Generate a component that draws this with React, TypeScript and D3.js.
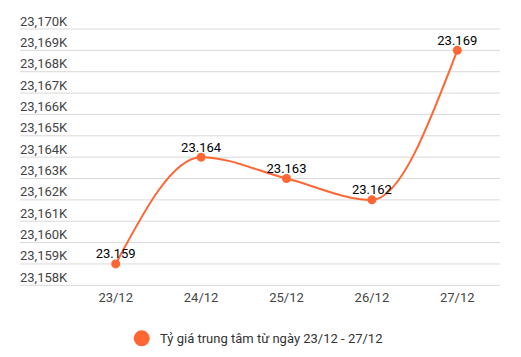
import React from "react";
import * as d3 from "d3";

const categories = ["23/12", "24/12", "25/12", "26/12", "27/12"];
const values = [23159, 23164, 23163, 23162, 23169];
const dataLabels = ["23.159", "23.164", "23.163", "23.162", "23.169"];
const yTicks = [23158, 23159, 23160, 23161, 23162, 23163, 23164, 23165, 23166, 23167, 23168, 23169, 23170];
const seriesName = "Tỷ giá trung tâm từ ngày 23/12 - 27/12";

const W = 521;
const H = 357;
const COLOR = "#FF6633";
const FONT = "Roboto, 'Noto Sans', sans-serif";

export default function App() {
  const x = d3.scalePoint<string>().domain(categories).range([73, 500]).padding(0.5);
  const y = d3.scaleLinear().domain([23158, 23170]).range([285.3, 29]);
  const tickLabel = (v: number) => `${Math.floor(v / 1000)},${String(v % 1000).padStart(3, "0")}K`;
  const line = d3
    .line<number>()
    .x((_, i) => x(categories[i]) as number)
    .y((d) => y(d))
    .curve(d3.curveMonotoneX);
  return (
    <svg width={W} height={H} style={{ position: "absolute", left: 0, top: 0, fontFamily: FONT }}>
      <rect width={W} height={H} fill="#fff" />
      {yTicks.map((t) => (
        <g key={t}>
          <line x1={20} x2={500} y1={y(t)} y2={y(t)} stroke="#d9d9d9" strokeWidth={1} />
          <text x={20} y={y(t) - 3.5} fontSize={13} fill="#444">
            {tickLabel(t)}
          </text>
        </g>
      ))}
      {categories.map((c) => (
        <text key={c} x={x(c)} y={301.5} fontSize={13} fill="#444" textAnchor="middle">
          {c}
        </text>
      ))}
      <path d={line(values) || ""} fill="none" stroke={COLOR} strokeWidth={2} />
      {values.map((v, i) => (
        <circle key={i} cx={x(categories[i])} cy={y(v)} r={4.5} fill={COLOR} />
      ))}
      {values.map((v, i) => (
        <text key={"l" + i} x={x(categories[i])} y={y(v) - 5.5} fontSize={13} fill="#000" textAnchor="middle">
          {dataLabels[i]}
        </text>
      ))}
      <circle cx={141.7} cy={338.3} r={8} fill={COLOR} />
      <text x={160} y={343} fontSize={13} fill="#333">
        {seriesName}
      </text>
    </svg>
  );
}
